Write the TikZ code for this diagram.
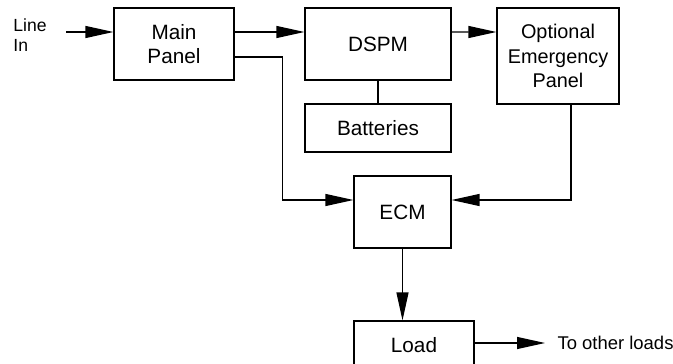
\documentclass[tikz,border=0pt]{standalone}
\usepackage{fontspec}
\setmainfont{Liberation Sans}
\usetikzlibrary{arrows.meta}
\begin{document}
\begin{tikzpicture}[x=0.02cm, y=-0.02cm, line width=0.7pt,
  blk/.style={draw, align=center, inner sep=0pt, font=\fontsize{11.8}{13.2}\selectfont},
  arr/.style={-{Triangle[length=5.6mm, width=2.4mm]}}]
\useasboundingbox (0,0) rectangle (673,364);
\node[blk, minimum width=2.40cm, minimum height=1.44cm] (main) at (174,44) {Main\\Panel};
\node[blk, minimum width=2.92cm, minimum height=1.44cm] (dspm) at (378,44) {DSPM};
\node[blk, minimum width=2.44cm, minimum height=1.92cm, font=\fontsize{11.3}{14}\selectfont] (opt) at (558,56) {Optional\\Emergency\\Panel};
\node[blk, minimum width=2.92cm, minimum height=0.96cm] (batt) at (378,128) {Batteries};
\node[blk, minimum width=1.94cm, minimum height=1.44cm] (ecm) at (402.5,212) {ECM};
\node[blk, minimum width=2.40cm, minimum height=0.96cm] (load) at (414,345) {Load};
\node[align=left, inner sep=0pt, font=\fontsize{10}{11}\selectfont] (linein) at (30,35) {Line\\In};
\node[anchor=west, inner sep=0pt, font=\fontsize{10.5}{13.5}\selectfont] (other) at (557,343) {To other loads};
\coordinate (src) at (66,32);
\draw[arr] (src) -- (main.west |- src);
\draw[arr] ([yshift=2.4mm]main.east) -- ([yshift=2.4mm]dspm.west);
\draw[arr] ([yshift=2.4mm]dspm.east) -- ([yshift=4.8mm]opt.west);
\draw (dspm.south) -- (batt.north);
\draw[arr] ([yshift=-2.6mm]main.east) -- ++(48,0) |- ([yshift=2.4mm]ecm.west);
\draw[arr] ([xshift=2.6mm]opt.south) |- ([yshift=2.4mm]ecm.east);
\draw[arr] (ecm.south) -- (ecm.south |- load.north);
\draw[arr] (load.east |- other.west) -- ([xshift=-2.4mm]other.west);
\end{tikzpicture}
\end{document}
